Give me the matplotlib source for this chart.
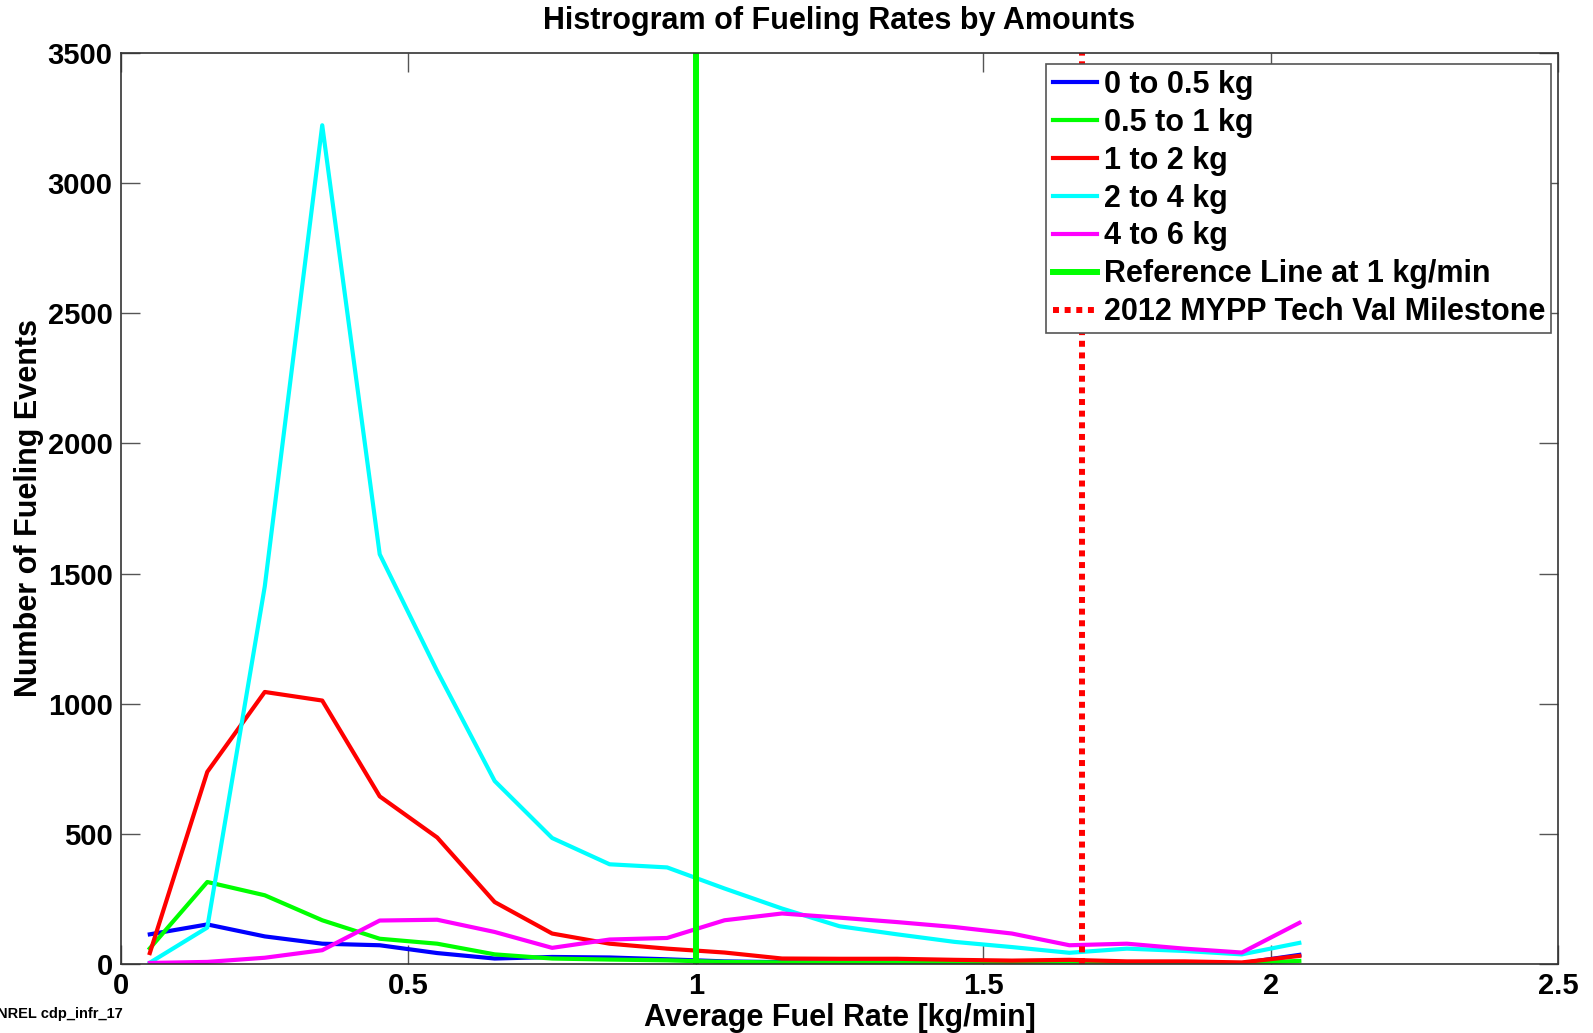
import matplotlib
matplotlib.use("Agg")
import matplotlib.pyplot as plt

plt.rcParams['font.family'] = ['Liberation Sans', 'DejaVu Sans']
plt.rcParams['font.weight'] = 'bold'

x_rate = [0.05, 0.15, 0.25, 0.35, 0.45, 0.55, 0.65, 0.75, 0.85, 0.95, 1.05,
          1.15, 1.25, 1.35, 1.45, 1.55, 1.65, 1.75, 1.85, 1.95, 2.05]

kg_0_05 = [114, 152, 106, 78, 72, 42, 21, 27, 25, 18, 10,
           7, 5, 5, 4, 3, 3, 3, 2, 3, 35]
kg_05_1 = [60, 315, 264, 168, 97, 78, 37, 21, 17, 14, 8,
           6, 5, 5, 4, 3, 3, 3, 3, 2, 12]
kg_1_2 = [42, 738, 1045, 1012, 644, 486, 238, 117, 78, 59, 44,
          21, 20, 20, 16, 13, 16, 10, 10, 6, 31]
kg_2_4 = [5, 140, 1450, 3222, 1574, 1125, 703, 484, 383, 371, 290,
          213, 145, 114, 85, 65, 43, 59, 50, 37, 81]
kg_4_6 = [4, 8, 24, 53, 167, 170, 123, 62, 94, 100, 168,
          194, 178, 161, 142, 117, 72, 78, 59, 44, 158]

ref_rate = 1.0
milestone_rate = 1.672
y_limits = [0, 3500]

labels = ['0 to 0.5 kg', '0.5 to 1 kg', '1 to 2 kg', '2 to 4 kg', '4 to 6 kg',
          'Reference Line at 1 kg/min', '2012 MYPP Tech Val Milestone']
colors = ['#0000ff', '#00ff00', '#ff0000', '#00ffff', '#ff00ff']

FS = 22

fig = plt.figure(figsize=(15.93, 10.33), dpi=100)
ax = fig.add_axes([0.076, 0.0668, 0.902, 0.882])

series = [kg_0_05, kg_05_1, kg_1_2, kg_2_4, kg_4_6]
for s, c, lab in zip(series, colors, labels[:5]):
    ax.plot(x_rate, s, color=c, lw=3.0, label=lab)

ax.plot([ref_rate, ref_rate], y_limits, color='#00ff00', lw=4.3, label=labels[5])
ax.plot([milestone_rate, milestone_rate], y_limits, color='#ff0000', lw=4.3,
        linestyle=(0, (1.0, 0.95)), dash_capstyle='butt', label=labels[6])

ax.set_xlim(0, 2.5)
ax.set_ylim(0, 3500)
ax.set_xticks([0, 0.5, 1, 1.5, 2, 2.5])
ax.set_xticklabels(['0', '0.5', '1', '1.5', '2', '2.5'])
ax.set_yticks(range(0, 3501, 500))
ax.tick_params(direction='in', length=14, width=1, color='#555555',
               top=True, right=True, labelsize=21, pad=6)
for sp in ax.spines.values():
    sp.set_color('#333333')
    sp.set_linewidth(1.2)

ax.set_title('Histrogram of Fueling Rates by Amounts', fontsize=FS,
             fontweight='bold', pad=17)
ax.set_xlabel('Average Fuel Rate [kg/min]', fontsize=FS, fontweight='bold', labelpad=2)
ax.set_ylabel('Number of Fueling Events', fontsize=FS, fontweight='bold', labelpad=3)

leg = ax.legend(loc='upper right', bbox_to_anchor=(0.9995, 0.995), fontsize=FS,
                handlelength=1.45, handletextpad=0.22, labelspacing=0.26,
                borderpad=0.2, borderaxespad=0.2, fancybox=False, framealpha=1)
leg.get_frame().set_edgecolor('#555555')
leg.get_frame().set_linewidth(1.2)

fig.text(-0.002, 0.012, 'NREL cdp_infr_17', fontsize=10.5, fontweight='bold',
         ha='left', va='bottom')

fig.savefig('out.png', dpi=100)
